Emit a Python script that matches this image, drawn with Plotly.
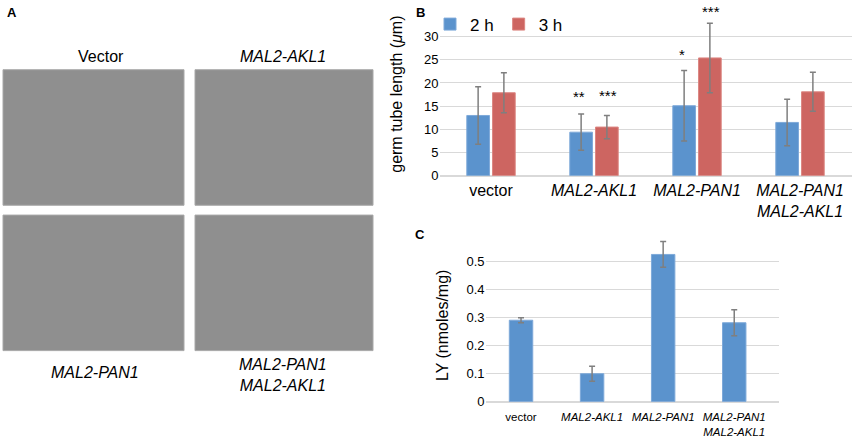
import plotly.graph_objects as go

# panel B - germ tube length
groups = ["vector", "MAL2-AKL1", "MAL2-PAN1", "MAL2-PAN1 / MAL2-AKL1"]
group_ticks = ["vector", "<i>MAL2-AKL1</i>", "<i>MAL2-PAN1</i>", "<i>MAL2-PAN1<br>MAL2-AKL1</i>"]
len_2h = [13.0, 9.4, 15.1, 11.5]
err_2h = [6.2, 3.9, 7.6, 5.0]
len_3h = [17.9, 10.5, 25.4, 18.1]
err_3h = [4.3, 2.5, 7.5, 4.2]
stars_2h = ["", "**", "*", ""]
stars_3h = ["", "***", "***", ""]
star_pad_2h = [0, 1.6, 1.2, 0]
star_pad_3h = [0, 2.0, 0.2, 0]

# panel C - LY uptake
ly_vals = [0.291, 0.100, 0.526, 0.282]
ly_err = [0.009, 0.027, 0.046, 0.046]

# panel A - image labels
img_labels = ["Vector", "<i>MAL2-AKL1</i>", "<i>MAL2-PAN1</i>", "<i>MAL2-PAN1<br>MAL2-AKL1</i>"]

BLUE = "#5b93cd"
RED = "#cd6561"
FONT = "Liberation Sans, Arial, sans-serif"

W, H = 856, 447
def px(x):
    return x / W
def py(y):
    return 1 - y / H

fig = go.Figure()

fig.add_trace(go.Bar(x=groups, y=len_2h, name="2 h", marker=dict(color=BLUE, line=dict(color="#7ea9d9", width=1)),
                     error_y=dict(type="data", array=err_2h, color="#7f7f7f", thickness=1.5, width=3),
                     xaxis="x", yaxis="y"))
fig.add_trace(go.Bar(x=groups, y=len_3h, name="3 h", marker=dict(color=RED, line=dict(color="#dc8682", width=1)),
                     error_y=dict(type="data", array=err_3h, color="#7f7f7f", thickness=1.5, width=3),
                     xaxis="x", yaxis="y"))
fig.add_trace(go.Bar(x=groups, y=ly_vals, name="LY", showlegend=False,
                     marker=dict(color=BLUE, line=dict(color="#7ea9d9", width=1)),
                     error_y=dict(type="data", array=ly_err, color="#7f7f7f", thickness=1.5, width=3),
                     xaxis="x2", yaxis="y2", width=0.33))

grid = "#d9d9d9"
fig.update_layout(
    width=W, height=H, margin=dict(l=0, r=0, t=0, b=0),
    paper_bgcolor="white", plot_bgcolor="white",
    font=dict(family=FONT, color="black"),
    barmode="group", bargap=0.5, bargroupgap=0.12,
    xaxis=dict(domain=[px(439.5), px(851.5)], tickvals=groups, ticktext=group_ticks,
               tickfont=dict(size=16), showgrid=False, showline=False, ticks="", anchor="y",
               ticklabelstandoff=3),
    yaxis=dict(domain=[py(179), py(16)], range=[0, 34.5], tickvals=[0, 5, 10, 15, 20, 25, 30],
               tickfont=dict(size=13), gridcolor=grid, zeroline=True, zerolinecolor=grid,
               showline=False, ticks="", anchor="x"),
    xaxis2=dict(domain=[px(485.5), px(779)], range=[-0.5, 3.63], tickvals=groups, ticktext=group_ticks,
                tickfont=dict(size=11.5), showgrid=False, showline=False, ticks="", anchor="y2",
                ticklabelstandoff=7),
    yaxis2=dict(domain=[py(409), py(243.7)], range=[0, 0.58], tickvals=[0, 0.1, 0.2, 0.3, 0.4, 0.5],
                ticktext=["0", "0.1", "0.2", "0.3", "0.4", "0.5"],
                tickfont=dict(size=13), gridcolor=grid, zeroline=True, zerolinecolor=grid,
                showline=False, ticks="", anchor="x2"),
    legend=dict(orientation="h", x=px(430), y=py(25), xanchor="left", yanchor="middle",
                font=dict(size=17), itemwidth=30, bgcolor="rgba(0,0,0,0)"),
)

ann = []
# significance stars
for i, g in enumerate(groups):
    if stars_2h[i]:
        ann.append(dict(x=g, y=len_2h[i] + err_2h[i] + star_pad_2h[i], xref="x", yref="y", xshift=-15,
                        text=stars_2h[i], showarrow=False, yanchor="bottom", font=dict(size=15)))
    if stars_3h[i]:
        ann.append(dict(x=g, y=len_3h[i] + err_3h[i] + star_pad_3h[i], xref="x", yref="y", xshift=14,
                        text=stars_3h[i], showarrow=False, yanchor="bottom", font=dict(size=15)))

def label(x, y, text, size, angle=0):
    return dict(x=px(x), y=py(y), xref="paper", yref="paper", text=text, textangle=angle,
                xanchor="center", yanchor="middle", showarrow=False, font=dict(size=size))

# axis titles
ann.append(label(397, 96.5, "germ tube length (<i>μ</i>m)", 16, -90))
ann.append(label(442, 332, "LY (nmoles/mg)", 16, -90))

# panel letters
for letter, x, y in [("A", 12, 13), ("B", 420, 13), ("C", 420, 239)]:
    ann.append(label(x, y, "<b>" + letter + "</b>", 13))

# panel A micrographs (placeholders) and labels
boxes = [(3, 71, 184, 209), (195, 71, 373, 209), (3, 219, 184, 357), (195, 219, 373, 357)]
shapes = []
for x0, y0, x1, y1 in boxes:
    shapes.append(dict(type="rect", xref="paper", yref="paper", x0=px(x0), x1=px(x1), y0=py(y1), y1=py(y0),
                       fillcolor="#8f8f8f", line=dict(color="#a8a8a8", width=1), layer="below"))
label_pos = [(101, 58), (283, 58), (95, 379), (283, 382)]
for lab, (x, y) in zip(img_labels, label_pos):
    ann.append(label(x, y, lab, 16))

fig.update_layout(annotations=ann, shapes=shapes)

# no page margin, and fit the figure to the real viewport
css_fix = """
document.documentElement.style.overflow='hidden';
document.body.style.margin='0';
document.body.style.overflow='hidden';
var gd = document.getElementsByClassName('plotly-graph-div')[0];
gd.style.display='block';
gd.parentElement.style.lineHeight='0';
Plotly.relayout(gd, {width: window.innerWidth, height: window.innerHeight});
"""
fig.write_html("out.html", config={"displayModeBar": False}, post_script=css_fix)
